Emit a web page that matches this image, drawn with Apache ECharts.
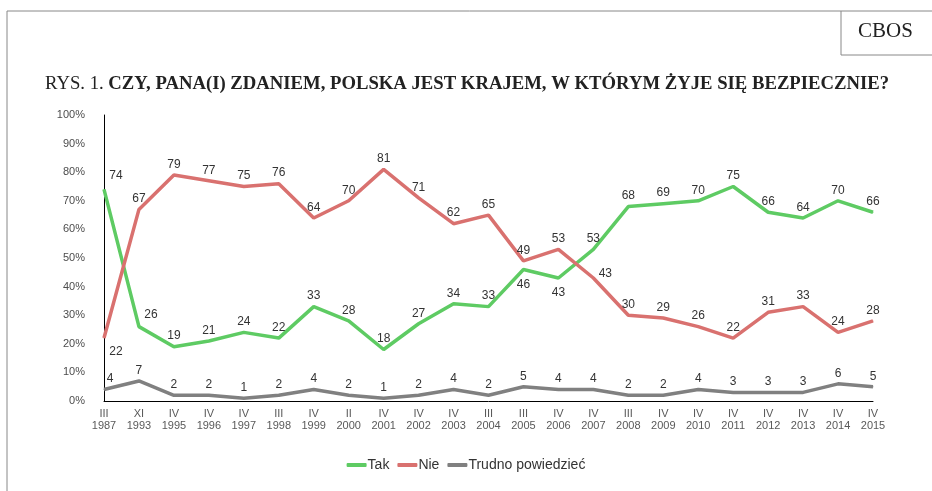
<!DOCTYPE html>
<html>
<head>
<meta charset="utf-8">
<script src="https://cdn.jsdelivr.net/npm/echarts@6/dist/echarts.min.js"></script>
<style>
  * { margin: 0; padding: 0; }
  html, body { background: #fff; }
  #main { width: 932px; height: 491px; }
</style>
</head>
<body>
<div id="main"></div>
<script>
// okresy badania
var categories = ['III\n1987', 'XI\n1993', 'IV\n1995', 'IV\n1996', 'IV\n1997', 'III\n1998', 'IV\n1999', 'II\n2000',
  'IV\n2001', 'IV\n2002', 'IV\n2003', 'III\n2004', 'III\n2005', 'IV\n2006', 'IV\n2007', 'III\n2008', 'IV\n2009',
  'IV\n2010', 'IV\n2011', 'IV\n2012', 'IV\n2013', 'IV\n2014', 'IV\n2015'];
var tak = [74, 26, 19, 21, 24, 22, 33, 28, 18, 27, 34, 33, 46, 43, 53, 68, 69, 70, 75, 66, 64, 70, 66];
var nie = [22, 67, 79, 77, 75, 76, 64, 70, 81, 71, 62, 65, 49, 53, 43, 30, 29, 26, 22, 31, 33, 24, 28];
var trudno = [4, 7, 2, 2, 1, 2, 4, 2, 1, 2, 4, 2, 5, 4, 4, 2, 2, 4, 3, 3, 3, 6, 5];
var yTicks = [0, 10, 20, 30, 40, 50, 60, 70, 80, 90, 100];

// etykiety, ktore nie siedza nad punktem
var takLabelPos = { 0: [12, -14], 1: [12, -12], 12: [0, 15], 13: [0, 15] };
var nieLabelPos = { 0: [12, 14], 14: [12, -4] };
var trudnoLabelPos = { 0: [6, -11] };

function withLabels(values, special) {
  return values.map(function (v, i) {
    var item = { value: v };
    if (special[i]) {
      item.label = { position: 'inside', offset: special[i] };
    }
    return item;
  });
}

var chart = echarts.init(document.getElementById('main'));
var lbl = { show: true, position: 'top', distance: 4, color: '#333', fontSize: 12, fontFamily: 'Arial, "Liberation Sans", sans-serif' };

function lineSeries(name, data, color) {
  return {
    name: name, type: 'line', data: data, color: color,
    symbol: 'circle', symbolSize: 1, showSymbol: true,
    lineStyle: { width: 3.5 }, label: lbl
  };
}

chart.setOption({
  animation: false,
  backgroundColor: '#fff',
  grid: { left: 104, right: 59, top: 115, bottom: 90 },
  graphic: [
    { type: 'line', shape: { x1: 7, y1: 11, x2: 932, y2: 11 }, style: { stroke: '#888', lineWidth: 1 } },
    { type: 'line', shape: { x1: 7, y1: 11, x2: 7, y2: 491 }, style: { stroke: '#888', lineWidth: 1 } },
    { type: 'line', shape: { x1: 841, y1: 11, x2: 841, y2: 55 }, style: { stroke: '#888', lineWidth: 1 } },
    { type: 'line', shape: { x1: 841, y1: 55, x2: 932, y2: 55 }, style: { stroke: '#888', lineWidth: 1 } },
    { type: 'text', left: 858, top: 21, style: { text: 'CBOS', font: '21px "Liberation Serif", "Times New Roman", serif', fill: '#222' } },
    {
      type: 'text', left: 45, top: 75,
      style: {
        text: '{a|RYS. 1. }{b|CZY, PANA(I) ZDANIEM, POLSKA JEST KRAJEM, W KTÓRYM ŻYJE SIĘ BEZPIECZNIE?}',
        rich: {
          a: { fontFamily: '"Liberation Serif", serif', fontSize: 18.7, fill: '#222' },
          b: { fontFamily: '"Liberation Serif", serif', fontSize: 18.7, fontWeight: 'bold', fill: '#222' }
        }
      }
    }
  ],
  legend: {
    bottom: 14,
    left: 'center',
    itemWidth: 20,
    itemHeight: 4,
    itemGap: 8,
    icon: 'roundRect',
    textStyle: { fontSize: 14, color: '#333', fontFamily: 'Arial, "Liberation Sans", sans-serif', padding: [0, 0, 0, -4] },
    data: ['Tak', 'Nie', 'Trudno powiedzieć']
  },
  xAxis: {
    type: 'category',
    data: categories,
    boundaryGap: false,
    axisLine: { lineStyle: { color: '#000', width: 1 } },
    axisTick: { show: false },
    axisLabel: { color: '#595959', fontSize: 11, lineHeight: 12, margin: 7, interval: 0, fontFamily: 'Arial, "Liberation Sans", sans-serif' }
  },
  yAxis: {
    type: 'value',
    min: yTicks[0],
    max: yTicks[yTicks.length - 1],
    interval: 10,
    axisLine: { show: true, lineStyle: { color: '#000', width: 1 } },
    axisTick: { show: false },
    splitLine: { show: false },
    axisLabel: { formatter: '{value}%', color: '#4d4d4d', fontSize: 11, margin: 19, fontFamily: 'Arial, "Liberation Sans", sans-serif' }
  },
  series: [
    lineSeries('Tak', withLabels(tak, takLabelPos), '#5ecb63'),
    lineSeries('Nie', withLabels(nie, nieLabelPos), '#d9716f'),
    lineSeries('Trudno powiedzieć', withLabels(trudno, trudnoLabelPos), '#808080')
  ]
});
</script>
</body>
</html>
